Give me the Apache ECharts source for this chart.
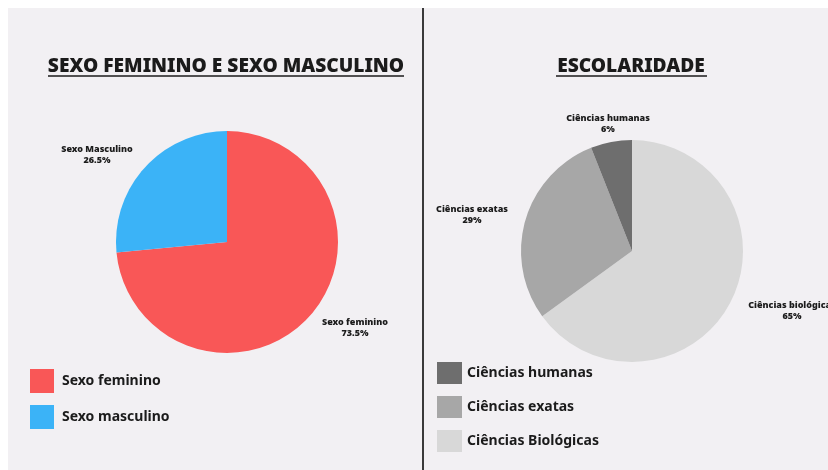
<!DOCTYPE html>
<html>
<head>
<meta charset="utf-8">
<script src="https://cdn.jsdelivr.net/npm/echarts@6/dist/echarts.min.js"></script>
<style>
  html, body { margin: 0; padding: 0; background: #fff; }
  #chart { width: 828px; height: 470px; }
</style>
</head>
<body>
<div id="chart"></div>
<script>
// dados
var sexoNomes = ['Sexo feminino', 'Sexo masculino'];
var sexoLabels = ['Sexo feminino', 'Sexo Masculino'];
var sexoValores = [73.5, 26.5];
var sexoCores = ['#f95757', '#3bb3f7'];

var escNomes = ['Ciências Biológicas', 'Ciências exatas', 'Ciências humanas'];
var escLabels = ['Ciências biológicas', 'Ciências exatas', 'Ciências humanas'];
var escValores = [65, 29, 6];
var escCores = ['#d8d8d8', '#a7a7a7', '#6e6e6e'];
var escLegenda = ['Ciências humanas', 'Ciências exatas', 'Ciências Biológicas'];

// posição dos rótulos (x, y)
var posSexo = [[355, 328], [97, 155]];
var posEsc = [[792, 311], [472, 215], [608, 124]];

var font = 'Noto Sans';
var cor = '#1b1b1b';

function montaDados(nomes, labels, valores, cores){
  var arr = [];
  for(var i=0; i<nomes.length; i++){
    arr.push({
      name: nomes[i],
      value: valores[i],
      itemStyle: { color: cores[i] },
      label: { formatter: labels[i] + '\n' + valores[i] + '%' }
    });
  }
  return arr;
}

var labelBase = {
  show: true,
  fontFamily: font,
  fontWeight: 900,
  fontSize: 9,
  lineHeight: 11,
  color: cor,
  align: 'center',
  overflow: 'none'
};

var chart = echarts.init(document.getElementById('chart'));
chart.setOption({
  animation: false,
  backgroundColor: '#ffffff',
  graphic: [
    { type: 'rect', shape: { x: 8, y: 8, width: 820, height: 462 }, style: { fill: '#f2f0f3' }, z: -10 },
    { type: 'line', shape: { x1: 423, y1: 8, x2: 423, y2: 470 }, style: { stroke: '#3a3a3a', lineWidth: 2 } },
    { type: 'line', shape: { x1: 48, y1: 76, x2: 404, y2: 76 }, style: { stroke: cor, lineWidth: 1.5 } },
    { type: 'line', shape: { x1: 556, y1: 76, x2: 707, y2: 76 }, style: { stroke: cor, lineWidth: 1.5 } }
  ],
  title: [{
    text: 'SEXO FEMININO E SEXO MASCULINO',
    left: 226, top: 57, textAlign: 'center', padding: 0,
    textStyle: { fontFamily: font, fontWeight: 900, fontSize: 19.2, color: cor }
  }, {
    text: 'ESCOLARIDADE',
    left: 631, top: 57, textAlign: 'center', padding: 0,
    textStyle: { fontFamily: font, fontWeight: 900, fontSize: 19.2, color: cor }
  }],
  legend: [{
    data: sexoNomes,
    orient: 'vertical',
    left: 30, top: 369, padding: 0,
    itemWidth: 24, itemHeight: 24, itemGap: 12,
    icon: 'rect',
    textStyle: { fontFamily: font, fontWeight: 'bold', fontSize: 14, color: cor, padding: [0, 0, 0, 3] }
  }, {
    data: escLegenda,
    orient: 'vertical',
    left: 437, top: 362, padding: 0,
    itemWidth: 25, itemHeight: 22, itemGap: 12,
    icon: 'rect',
    textStyle: { fontFamily: font, fontWeight: 'bold', fontSize: 14, color: cor }
  }],
  series: [{
    type: 'pie',
    center: [227, 242],
    radius: 111,
    startAngle: 90,
    clockwise: true,
    label: labelBase,
    labelLine: { show: false },
    labelLayout: function(p){
      return { x: posSexo[p.dataIndex][0], y: posSexo[p.dataIndex][1], align: 'center', verticalAlign: 'middle' };
    },
    emphasis: { disabled: true },
    data: montaDados(sexoNomes, sexoLabels, sexoValores, sexoCores)
  }, {
    type: 'pie',
    center: [632, 251],
    radius: 111,
    startAngle: 90,
    clockwise: true,
    label: labelBase,
    labelLine: { show: false },
    labelLayout: function(p){
      return { x: posEsc[p.dataIndex][0], y: posEsc[p.dataIndex][1], align: 'center', verticalAlign: 'middle' };
    },
    emphasis: { disabled: true },
    data: montaDados(escNomes, escLabels, escValores, escCores)
  }]
});
</script>
</body>
</html>
